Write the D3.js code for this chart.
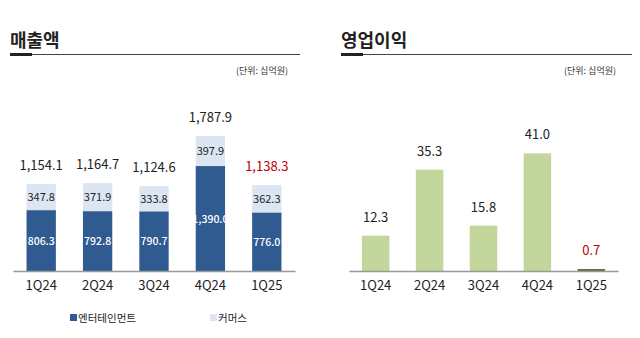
<!DOCTYPE html>
<html><head><meta charset="utf-8">
<script src="https://cdn.jsdelivr.net/npm/d3@7"></script>
<style>
body{margin:0;background:#fff;}
svg text{font-family:"Noto Sans CJK KR","Noto Sans",sans-serif;}
</style></head>
<body><svg id="c" width="640" height="338"></svg>
<script>
const quarters = ["1Q24","2Q24","3Q24","4Q24","1Q25"];
const entertainment = [806.3, 792.8, 790.7, 1390.0, 776.0];
const commerce = [347.8, 371.9, 333.8, 397.9, 362.3];
const totals = [1154.1, 1164.7, 1124.6, 1787.9, 1138.3];
const operatingProfit = [12.3, 35.3, 15.8, 41.0, 0.7];
const salesTitle = "매출액";
const profitTitle = "영업이익";
const unitLabel = "(단위: 십억원)";
const legendLabels = ["엔터테인먼트", "커머스"];

const svg = d3.select("#c");
const darkBlue = "#2f5b90", lightBlue = "#dce6f2", green = "#c3d69b", red = "#c00000", txt = "#222";

function header(x0, x1, title, unitX){
  svg.append("text").attr("x", x0).attr("y", 47).attr("font-size", 18).attr("font-weight", 700)
    .attr("fill", "#222").text(title);
  svg.append("line").attr("x1", x0).attr("x2", x1).attr("y1", 54.5).attr("y2", 54.5)
    .attr("stroke", "#444").attr("stroke-width", 1);
  svg.append("line").attr("x1", x0).attr("x2", x0 + 22).attr("y1", 54.5).attr("y2", 54.5)
    .attr("stroke", "#222").attr("stroke-width", 3);
  svg.append("text").attr("x", unitX).attr("y", 74).attr("font-size", 9).attr("text-anchor", "end")
    .attr("fill", "#333").text(unitLabel);
}
header(10, 300, salesTitle, 288);
header(341, 632, profitTitle, 616);

// Left chart
const base = 271;
const xL = d3.scaleBand().domain(quarters).range([13, 295]).paddingInner(0.48).paddingOuter(0.24);
const yL = d3.scaleLinear().domain([0, 2000]).range([base, base - 151]);
const gL = svg.append("g");
quarters.forEach((q, i) => {
  const x = xL(q), w = xL.bandwidth(), cx = x + w / 2;
  const e = entertainment[i], c = commerce[i];
  gL.append("rect").attr("x", x).attr("width", w).attr("y", yL(e)).attr("height", yL(0) - yL(e)).attr("fill", darkBlue);
  gL.append("rect").attr("x", x).attr("width", w).attr("y", yL(e + c)).attr("height", yL(e) - yL(e + c)).attr("fill", lightBlue);
  gL.append("text").attr("x", cx).attr("y", (yL(e) + yL(0)) / 2 + 4).attr("text-anchor", "middle")
    .attr("font-size", 10.5).attr("font-weight", 500).attr("fill", "#fff").text(d3.format(",.1f")(e));
  gL.append("text").attr("x", cx).attr("y", (yL(e) + yL(e + c)) / 2 + 4).attr("text-anchor", "middle")
    .attr("font-size", 11).attr("fill", txt).text(d3.format(",.1f")(c));
  gL.append("text").attr("x", cx).attr("y", yL(totals[i]) - 14).attr("text-anchor", "middle")
    .attr("font-size", 13).attr("fill", i === 4 ? red : txt).text(d3.format(",.1f")(totals[i]));
});
const axL = gL.append("g").attr("transform", `translate(0,${base})`)
  .call(d3.axisBottom(xL).tickSize(0).tickPadding(10));
axL.select(".domain").attr("stroke", "#999").attr("stroke-width", 1.5);
axL.selectAll("text").attr("font-size", 13).attr("fill", txt)
  .attr("font-family", "'Noto Sans CJK KR',sans-serif");

// Legend
const leg = svg.append("g");
[[70, darkBlue], [210, lightBlue]].forEach(([lx, col], i) => {
  leg.append("rect").attr("x", lx).attr("y", 314).attr("width", 7).attr("height", 7).attr("fill", col);
  leg.append("text").attr("x", lx + 8).attr("y", 322).attr("font-size", 10.5).attr("fill", txt).text(legendLabels[i]);
});

// Right chart
const xR = d3.scaleBand().domain(quarters).range([349, 618]).paddingInner(0.49).paddingOuter(0.24);
const yR = d3.scaleLinear().domain([0, 50]).range([base, base - 143.5]);
const gR = svg.append("g");
quarters.forEach((q, i) => {
  const x = xR(q), w = xR.bandwidth(), cx = x + w / 2, v = operatingProfit[i];
  gR.append("rect").attr("x", x).attr("width", w).attr("y", yR(v)).attr("height", yR(0) - yR(v))
    .attr("fill", v < 1 ? "#5f6f3e" : green);
  gR.append("text").attr("x", cx).attr("y", yR(v) - 14).attr("text-anchor", "middle")
    .attr("font-size", 13).attr("fill", i === 4 ? red : txt).text(d3.format(".1f")(v));
});
const axR = gR.append("g").attr("transform", `translate(0,${base})`)
  .call(d3.axisBottom(xR).tickSize(0).tickPadding(10));
axR.select(".domain").attr("stroke", "#999").attr("stroke-width", 1.5);
axR.selectAll("text").attr("font-size", 13).attr("fill", txt)
  .attr("font-family", "'Noto Sans CJK KR',sans-serif");
</script></body></html>
